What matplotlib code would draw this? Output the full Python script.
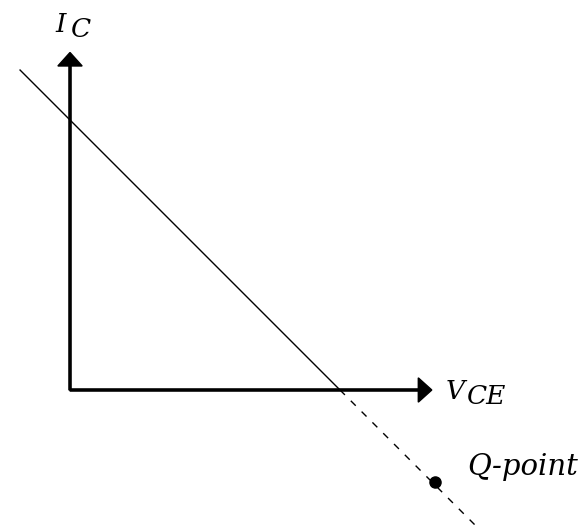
import matplotlib.pyplot as plt

# load line (intercepts on both axes)
vce_cut = 10.0
ic_cut = 10.0
solid_x = [-1.85, vce_cut]
dashed_x = [vce_cut, 15.1]

# Q-point beyond the cut-off
q_point = (13.5, -3.4)

# axis lengths
x_axis_end = 13.4
y_axis_end = 12.5


def load_line(x):
    return [ic_cut - ic_cut / vce_cut * v for v in x]


fig = plt.figure(figsize=(5.81, 5.26), dpi=100)
ax = fig.add_axes([0, 0, 1, 1])
ax.set_xlim(-2.593, 18.926)
ax.set_ylim(-5.037, 14.444)
ax.axis('off')

# axes with arrow heads
ax.arrow(0, 0, x_axis_end, 0, width=0.08, head_width=0.9, head_length=0.5,
         length_includes_head=True, color='black')
ax.arrow(0, 0, 0, y_axis_end, width=0.08, head_width=0.9, head_length=0.5,
         length_includes_head=True, color='black')

# load line, solid in the first quadrant, dashed afterwards
ax.plot(solid_x, load_line(solid_x), color='black', linewidth=1.0)
ax.plot(dashed_x, load_line(dashed_x), color='black', linewidth=1.0,
        linestyle=(0, (5, 6)))

ax.plot(*q_point, 'o', color='black', markersize=8)

font = dict(family='DejaVu Serif', style='italic', fontsize=19)
ax.text(-0.35, 13.55, 'I', ha='center', va='center', **font)
ax.text(0.4, 13.35, 'C', ha='center', va='center', **font)
ax.text(13.9, -0.05, 'V', ha='left', va='center', **font)
ax.text(14.7, -0.25, 'CE', ha='left', va='center', **font)
ax.text(14.7, -2.85, 'Q-point', ha='left', va='center',
        family='DejaVu Serif', style='italic', fontsize=21)

fig.savefig('out.png', dpi=100)
